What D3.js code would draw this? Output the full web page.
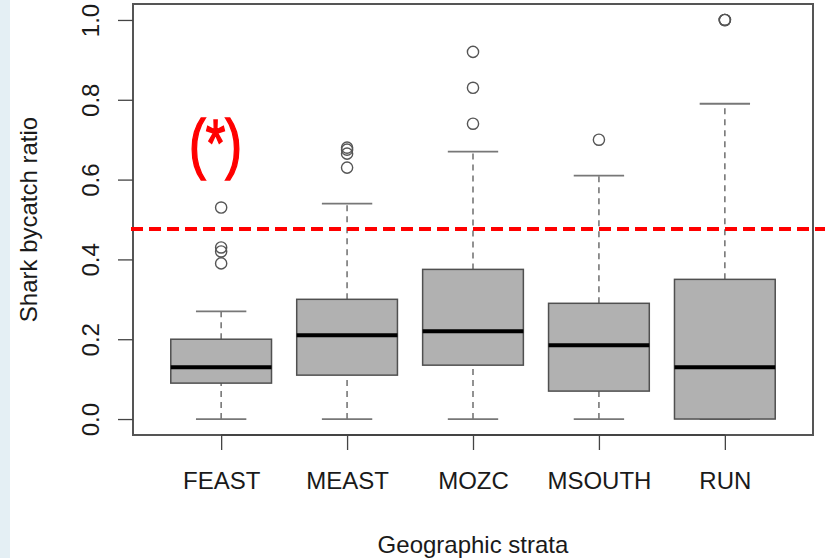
<!DOCTYPE html>
<html>
<head>
<meta charset="utf-8">
<script src="https://cdn.jsdelivr.net/npm/d3@7"></script>
<style>
  body { margin: 0; background: #fff; }
  svg { display: block; font-family: "Liberation Sans", Arial, sans-serif; }
</style>
</head>
<body>
<svg width="825" height="558"></svg>
<script>
// values
let strata = ["FEAST", "MEAST", "MOZC", "MSOUTH", "RUN"];
let whiskLow = [0, 0, 0, 0, 0];
let q1 = [0.09, 0.11, 0.135, 0.07, 0];
let median = [0.13, 0.21, 0.22, 0.185, 0.13];
let q3 = [0.2, 0.30, 0.375, 0.29, 0.35];
let whiskHigh = [0.27, 0.54, 0.67, 0.61, 0.79];
let outliers = [
  [0.53, 0.43, 0.42, 0.39],
  [0.68, 0.675, 0.665, 0.63],
  [0.92, 0.83, 0.74],
  [0.70],
  [1.0, 1.0, 1.0]
];
let yTicks = [0, 0.2, 0.4, 0.6, 0.8, 1.0];
let refLine = 0.476;

let svg = d3.select("svg"),
  pLeft = 133, pRight = 813, pTop = 4, pBottom = 435;

let x = d3.scaleLinear().domain([0.3, 5.7]).range([pLeft, pRight]);
let y = d3.scaleLinear().domain([-0.04, 1.04]).range([pBottom, pTop]);

// light strip on the left edge
svg.append("rect").attr("x", 0).attr("y", 0).attr("width", 10).attr("height", 558)
  .attr("fill", "#e4eff4");

let data = strata.map((s, i) => ({
  name: s, pos: i + 1, lo: whiskLow[i], q1: q1[i], med: median[i],
  q3: q3[i], hi: whiskHigh[i], out: outliers[i]
}));

let g = svg.append("g");

let box = g.selectAll("g.box")
  .data(data)
  .enter().append("g")
  .attr("class", "box");

// whiskers
box.append("line")
  .attr("x1", (d) => x(d.pos)).attr("x2", (d) => x(d.pos))
  .attr("y1", (d) => y(d.q3)).attr("y2", (d) => y(d.hi))
  .attr("stroke", "#777").attr("stroke-width", 1.6).attr("stroke-dasharray", "6,5");
box.append("line")
  .attr("x1", (d) => x(d.pos)).attr("x2", (d) => x(d.pos))
  .attr("y1", (d) => y(d.lo)).attr("y2", (d) => y(d.q1))
  .attr("stroke", "#777").attr("stroke-width", 1.6).attr("stroke-dasharray", "6,5");

// caps
["lo", "hi"].forEach((k) => {
  box.append("line")
    .attr("x1", (d) => x(d.pos - 0.2)).attr("x2", (d) => x(d.pos + 0.2))
    .attr("y1", (d) => y(d[k])).attr("y2", (d) => y(d[k]))
    .attr("stroke", "#777").attr("stroke-width", 1.8);
});

// boxes
box.append("rect")
  .attr("x", (d) => x(d.pos - 0.4))
  .attr("width", (d) => x(d.pos + 0.4) - x(d.pos - 0.4))
  .attr("y", (d) => y(d.q3))
  .attr("height", (d) => y(d.q1) - y(d.q3))
  .attr("fill", "#b1b1b1").attr("stroke", "#505050").attr("stroke-width", 1.5);

// medians
box.append("line")
  .attr("x1", (d) => x(d.pos - 0.4)).attr("x2", (d) => x(d.pos + 0.4))
  .attr("y1", (d) => y(d.med)).attr("y2", (d) => y(d.med))
  .attr("stroke", "#000").attr("stroke-width", 4);

// outliers
box.selectAll("circle")
  .data((d) => d.out.map((v) => ({ pos: d.pos, v: v })))
  .enter().append("circle")
  .attr("cx", (d) => x(d.pos)).attr("cy", (d) => y(d.v))
  .attr("r", 5.6)
  .attr("fill", "none").attr("stroke", "#555").attr("stroke-width", 1.4);

// frame
svg.append("rect")
  .attr("x", pLeft).attr("y", pTop).attr("width", pRight - pLeft).attr("height", pBottom - pTop)
  .attr("fill", "none").attr("stroke", "#555").attr("stroke-width", 2);

// axes
let yAxis = svg.append("g")
  .attr("transform", "translate(" + pLeft + ",0)")
  .call(d3.axisLeft(y).tickValues(yTicks).tickFormat(d3.format(".1f")).tickSize(15).tickSizeOuter(0));
yAxis.select(".domain").remove();
yAxis.selectAll(".tick line").attr("stroke", "#444").attr("stroke-width", 1.3);
yAxis.selectAll(".tick text")
  .attr("transform", "rotate(-90)")
  .attr("x", 0).attr("y", -34).attr("dy", 0)
  .attr("text-anchor", "middle")
  .attr("fill", "#1a1a1a")
  .style("font-size", "24px").style("font-family", "'Liberation Sans', Arial, sans-serif");

let xAxis = svg.append("g")
  .attr("transform", "translate(0," + pBottom + ")")
  .call(d3.axisBottom(x).tickValues(d3.range(1, strata.length + 1))
    .tickFormat((d) => strata[d - 1]).tickSize(15).tickSizeOuter(0));
xAxis.select(".domain")
  .attr("d", "M" + x(1) + ",0H" + x(strata.length))
  .attr("stroke", "#444").attr("stroke-width", 2);
xAxis.selectAll(".tick line").attr("stroke", "#444").attr("stroke-width", 1.3);
xAxis.selectAll(".tick text")
  .attr("y", 54).attr("dy", 0)
  .attr("fill", "#1a1a1a")
  .style("font-size", "24px").style("font-family", "'Liberation Sans', Arial, sans-serif");

// axis titles
svg.append("text")
  .attr("x", (pLeft + pRight) / 2).attr("y", 553)
  .attr("text-anchor", "middle").attr("fill", "#1a1a1a")
  .style("font-size", "24px")
  .text("Geographic strata");
svg.append("text")
  .attr("transform", "translate(37," + (pTop + pBottom) / 2 + ") rotate(-90)")
  .attr("text-anchor", "middle").attr("fill", "#1a1a1a")
  .style("font-size", "24px")
  .text("Shark bycatch ratio");

// red reference line and annotation
svg.append("line")
  .attr("x1", pLeft - 2).attr("x2", 825)
  .attr("y1", y(refLine)).attr("y2", y(refLine))
  .attr("stroke", "#ff0000").attr("stroke-width", 4).attr("stroke-dasharray", "12,6");
svg.append("text")
  .attr("x", 189).attr("y", 166)
  .attr("textLength", 53).attr("lengthAdjust", "spacingAndGlyphs")
  .attr("fill", "#ff0000").attr("stroke", "#ff0000").attr("stroke-width", 1.6)
  .style("font-size", "66px")
  .text("(*)");
</script>
</body>
</html>
